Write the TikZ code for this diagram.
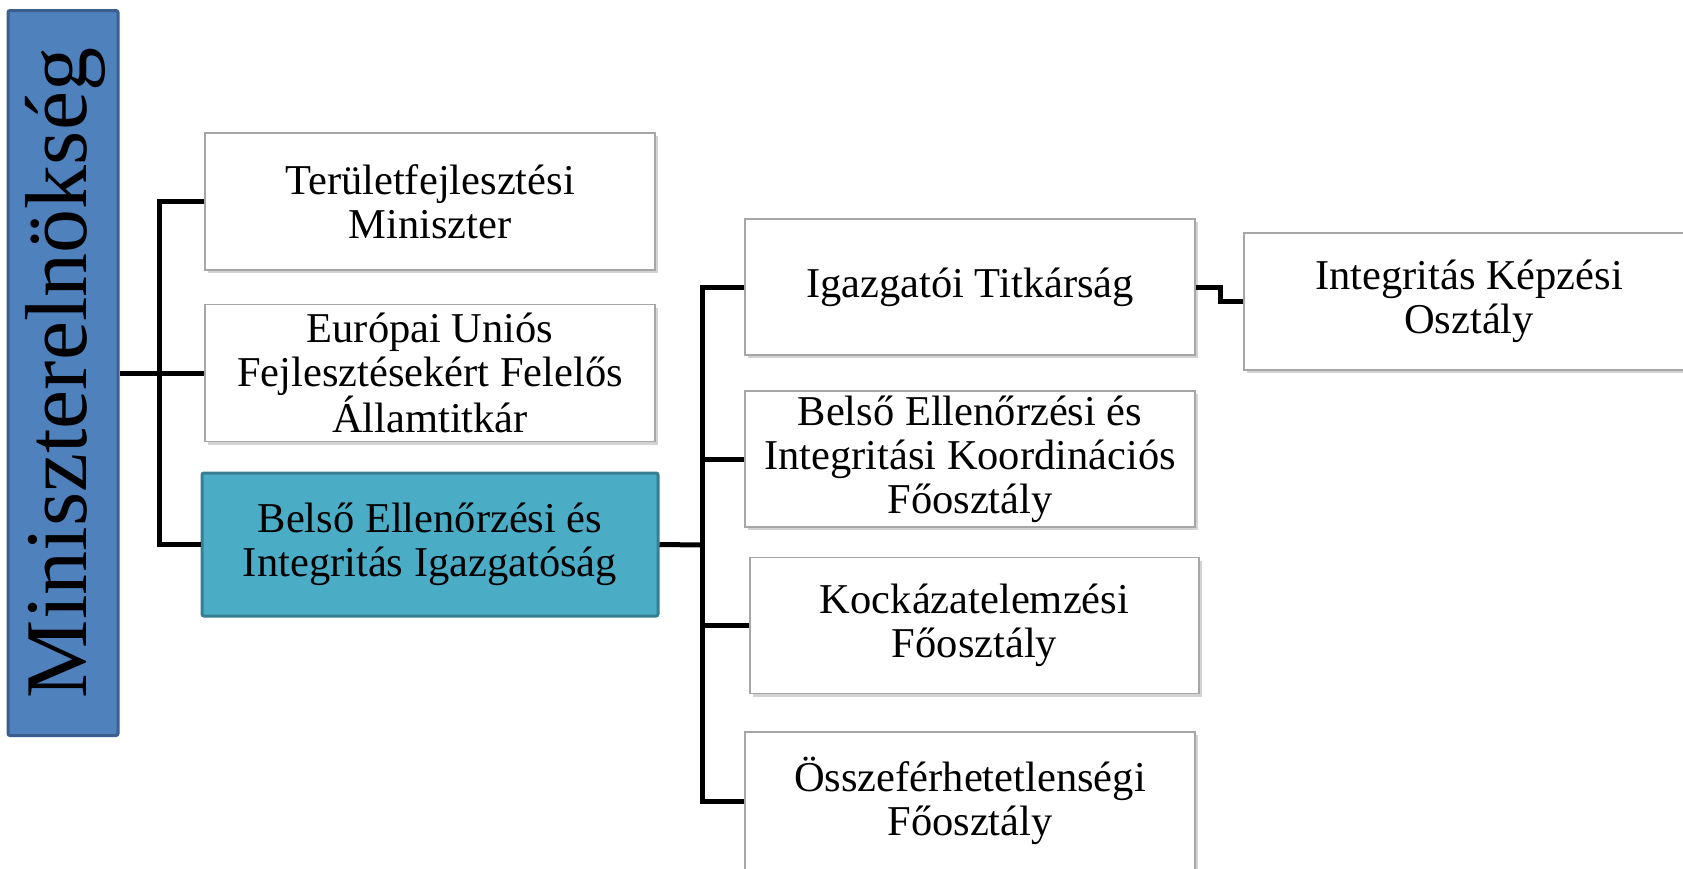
\documentclass[tikz,border=0pt]{standalone}
\usepackage{fontspec}
\setmainfont{Liberation Serif}
\usetikzlibrary{shadows}
\definecolor{mainblue}{HTML}{4F81BD}
\definecolor{mainblueb}{HTML}{3A5F8C}
\definecolor{tealfill}{HTML}{4BACC6}
\definecolor{tealb}{HTML}{377E92}
\definecolor{boxb}{HTML}{A6A6A6}
\tikzset{
  orgbox/.style={draw=boxb, line width=1.2pt, fill=white, rectangle, align=center,
    font=\fontsize{42.5}{44}\selectfont, inner sep=0pt,
    drop shadow={opacity=0.35, shadow xshift=2.5pt, shadow yshift=-3pt}},
  hibox/.style={draw=tealb, line width=3pt, fill=tealfill, rectangle, rounded corners=2pt,
    align=center, font=\fontsize{42.5}{44}\selectfont, inner sep=0pt},
  topbox/.style={draw=mainblueb, line width=3pt, fill=mainblue, rectangle, rounded corners=2pt, inner sep=0pt},
  conn/.style={line width=5pt, black, line join=miter}
}
\begin{document}
\begin{tikzpicture}[x=1pt,y=-1pt]
\useasboundingbox (0,0) rectangle (1683,868);
\begin{scope}
\clip (0,0) rectangle (1683,868);
% top box
\node[topbox, minimum width=110pt, minimum height=725pt] (main) at (63,373) {};
\node[rotate=90, font=\fontsize{88}{90}\selectfont] (maintext) at (65,373) {Miniszterelnökség};
% level 1
\node[orgbox, minimum width=450pt, minimum height=137pt] (b1) at (430,201.5) {Területfejlesztési\\Miniszter};
\node[orgbox, minimum width=450pt, minimum height=137pt] (b2) at (430,373) {Európai Uniós\\Fejlesztésekért Felelős\\Államtitkár};
\node[hibox, minimum width=456pt, minimum height=143pt] (b3) at (430,544.5) {Belső Ellenőrzési és\\Integritás Igazgatóság};
% level 2
\node[orgbox, minimum width=450pt, minimum height=136pt] (b4) at (970,287) {Igazgatói Titkárság};
\node[orgbox, minimum width=450pt, minimum height=136pt] (b5) at (970,459) {Belső Ellenőrzési és\\Integritási Koordinációs\\Főosztály};
\node[orgbox, minimum width=449pt, minimum height=136pt] (b6) at (974.5,625.5) {Kockázatelemzési\\Főosztály};
\node[orgbox, minimum width=450pt, minimum height=138pt] (b7) at (970,801) {Összeférhetetlenségi\\Főosztály};
% level 3
\node[orgbox, minimum width=450pt, minimum height=137pt] (b8) at (1469,301.5) {Integritás Képzési\\Osztály};
\end{scope}
% bus coordinates
\coordinate (bus1) at (159,373);
\coordinate (bus2) at (702,545);
\coordinate (jog) at (1220,295);
% connectors
\draw[conn] (main.east) -- (b2.west);
\draw[conn] (b1.west) -- (b1.west -| bus1) -- (b3.west -| bus1) -- (b3.west);
\draw[conn] (b3.east) -- (bus2);
\draw[conn] (b4.west) -- (b4.west -| bus2) -- (b7.west -| bus2) -- (b7.west);
\draw[conn] (b5.west -| bus2) -- (b5.west);
\draw[conn] (b6.west -| bus2) -- (b6.west);
\draw[conn] (b4.east) -| (jog) |- (b8.west);
\end{tikzpicture}
\end{document}
